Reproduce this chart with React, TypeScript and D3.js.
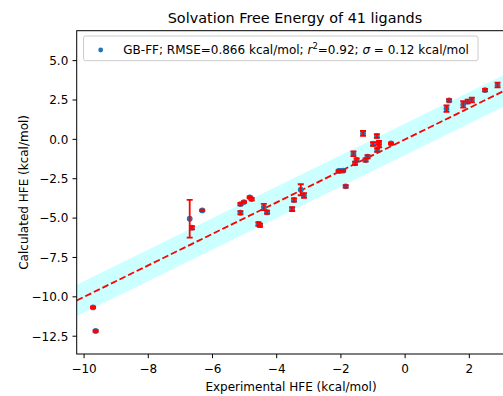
import React, { useEffect, useRef } from "react";
import * as d3 from "d3";

const expHFE = [
  -9.72, -9.64, -6.71, -6.64, -6.32, -5.13, -5.02, -5.13, -4.84, -4.78,
  -4.40, -4.30, -4.57, -4.52, -3.25, -3.15, -3.46, -3.52, -2.02, -1.93,
  -1.85, -1.61, -1.51, -1.56, -1.23, -1.17, -1.31, -0.88, -1.00, -0.81,
  -0.87, -0.44, 1.29, 1.37, 1.81, 1.95, 2.08, 2.49, 2.88, -2.07, -0.83,
];
const calcHFE = [
  -10.67, -12.17, -5.04, -5.61, -4.51, -4.11, -3.98, -4.66, -3.68, -3.79,
  -4.30, -4.63, -5.37, -5.45, -3.20, -3.56, -3.85, -4.43, -2.00, -1.99,
  -2.98, -0.91, -1.31, -1.52, -1.31, -1.10, 0.38, 0.21, -0.30, -0.30,
  -0.68, -0.26, 1.95, 2.47, 2.22, 2.40, 2.50, 3.13, 3.45, -2.01, -0.25,
];
const calcErr = [
  0.05, 0.05, 1.2, 0.1, 0.05, 0.08, 0.05, 0.1, 0.05, 0.08,
  0.2, 0.1, 0.12, 0.1, 0.35, 0.15, 0.1, 0.12, 0.05, 0.05,
  0.08, 0.15, 0.1, 0.1, 0.1, 0.1, 0.15, 0.12, 0.12, 0.2,
  0.12, 0.05, 0.2, 0.08, 0.2, 0.12, 0.15, 0.08, 0.15, 0.05, 0.08,
];
const xTicks = [-10, -8, -6, -4, -2, 0, 2];
const yTicks = [-12.5, -10, -7.5, -5, -2.5, 0, 2.5, 5];
const xDomain = [-10.23, 3.37];
const yDomain = [-13.63, 6.9];
const bandHalfWidth = 1.0;

export default function App() {
  const ref = useRef<SVGSVGElement>(null);
  useEffect(() => {
    const svg = d3.select(ref.current);
    svg.selectAll("*").remove();
    const W = 503, H = 396;
    const left = 76.7, right = 513.3, top = 30.7, bottom = 354;
    const x = d3.scaleLinear().domain(xDomain).range([left, right]);
    const y = d3.scaleLinear().domain(yDomain).range([bottom, top]);
    const font = "DejaVu Sans, sans-serif";
    const minus = (s: string) => s.replace("-", "\u2212");
    const fs = 12;

    svg.append("rect").attr("width", W).attr("height", H).attr("fill", "white");
    svg.append("defs").append("clipPath").attr("id", "clip")
      .append("rect").attr("x", left).attr("y", top).attr("width", right - left).attr("height", bottom - top);
    const g = svg.append("g").attr("clip-path", "url(#clip)");

    const bx = [xDomain[0], xDomain[1]];
    const area = d3.area<number>()
      .x((d) => x(d))
      .y0((d) => y(d - bandHalfWidth))
      .y1((d) => y(d + bandHalfWidth));
    g.append("path").datum(bx).attr("d", area).attr("fill", "cyan").attr("fill-opacity", 0.2);
    const line = d3.line<number>().x((d) => x(d)).y((d) => y(d));
    g.append("path").datum(bx).attr("d", line).attr("fill", "none")
      .attr("stroke", "#ff0000").attr("stroke-width", 1.8).attr("stroke-dasharray", "6.66,2.88");

    const idx = d3.range(expHFE.length);
    g.selectAll("circle.pt").data(idx).enter().append("circle")
      .attr("cx", (i) => x(expHFE[i])).attr("cy", (i) => y(calcHFE[i]))
      .attr("r", 2.9).attr("fill", "#1f77b4");

    const eb = g.selectAll("g.eb").data(idx).enter().append("g")
      .attr("stroke", "#ff0000").attr("stroke-width", 1.8);
    const cap = 3;
    eb.append("line")
      .attr("x1", (i) => x(expHFE[i])).attr("x2", (i) => x(expHFE[i]))
      .attr("y1", (i) => y(calcHFE[i] - calcErr[i])).attr("y2", (i) => y(calcHFE[i] + calcErr[i]));
    eb.append("line")
      .attr("x1", (i) => x(expHFE[i]) - cap).attr("x2", (i) => x(expHFE[i]) + cap)
      .attr("y1", (i) => y(calcHFE[i] - calcErr[i])).attr("y2", (i) => y(calcHFE[i] - calcErr[i]));
    eb.append("line")
      .attr("x1", (i) => x(expHFE[i]) - cap).attr("x2", (i) => x(expHFE[i]) + cap)
      .attr("y1", (i) => y(calcHFE[i] + calcErr[i])).attr("y2", (i) => y(calcHFE[i] + calcErr[i]));

    svg.append("rect").attr("x", left).attr("y", top).attr("width", right - left).attr("height", bottom - top)
      .attr("fill", "none").attr("stroke", "black").attr("stroke-width", 1);

    const xt = svg.append("g");
    xTicks.forEach((t) => {
      xt.append("line").attr("x1", x(t)).attr("x2", x(t)).attr("y1", bottom).attr("y2", bottom + 4.2)
        .attr("stroke", "black").attr("stroke-width", 1);
      xt.append("text").attr("x", x(t)).attr("y", bottom + 18.5).attr("text-anchor", "middle")
        .attr("font-family", font).attr("font-size", fs).text(minus(String(t)));
    });
    yTicks.forEach((t) => {
      xt.append("line").attr("x1", left - 4.2).attr("x2", left).attr("y1", y(t)).attr("y2", y(t))
        .attr("stroke", "black").attr("stroke-width", 1);
      xt.append("text").attr("x", left - 8.4).attr("y", y(t) + 4.3).attr("text-anchor", "end")
        .attr("font-family", font).attr("font-size", fs).text(minus(t.toFixed(1)));
    });

    svg.append("text").attr("x", (left + right) / 2 - 4).attr("y", 391).attr("text-anchor", "middle")
      .attr("font-family", font).attr("font-size", fs).text("Experimental HFE (kcal/mol)");
    svg.append("text").attr("transform", `translate(28,${(top + bottom) / 2}) rotate(-90)`)
      .attr("text-anchor", "middle").attr("font-family", font).attr("font-size", fs)
      .text("Calculated HFE (kcal/mol)");
    svg.append("text").attr("x", (left + right) / 2).attr("y", 23).attr("text-anchor", "middle")
      .attr("font-family", font).attr("font-size", 14.4).text("Solvation Free Energy of 41 ligands");

    const lg = svg.append("g");
    lg.append("rect").attr("x", 83.5).attr("y", 36).attr("width", 394.5).attr("height", 24.7)
      .attr("rx", 2).attr("fill", "white").attr("fill-opacity", 0.8)
      .attr("stroke", "#cccccc").attr("stroke-width", 1);
    lg.append("circle").attr("cx", 100.7).attr("cy", 50).attr("r", 2.4).attr("fill", "#1f77b4");
    const lt = lg.append("text").attr("x", 123.3).attr("y", 54).attr("font-family", font).attr("font-size", fs);
    lt.append("tspan").text("GB-FF; RMSE=0.866 kcal/mol; ");
    lt.append("tspan").attr("font-style", "italic").text("r");
    lt.append("tspan").attr("font-size", 8.5).attr("dy", -5).text("2");
    lt.append("tspan").attr("dy", 5).text("=0.92; ");
    lt.append("tspan").attr("font-style", "italic").text("\u03C3");
    lt.append("tspan").text(" = 0.12 kcal/mol");
  }, []);
  return (
    <svg ref={ref} width={503} height={396}
      style={{ position: "absolute", left: 0, top: 0, display: "block" }} />
  );
}
